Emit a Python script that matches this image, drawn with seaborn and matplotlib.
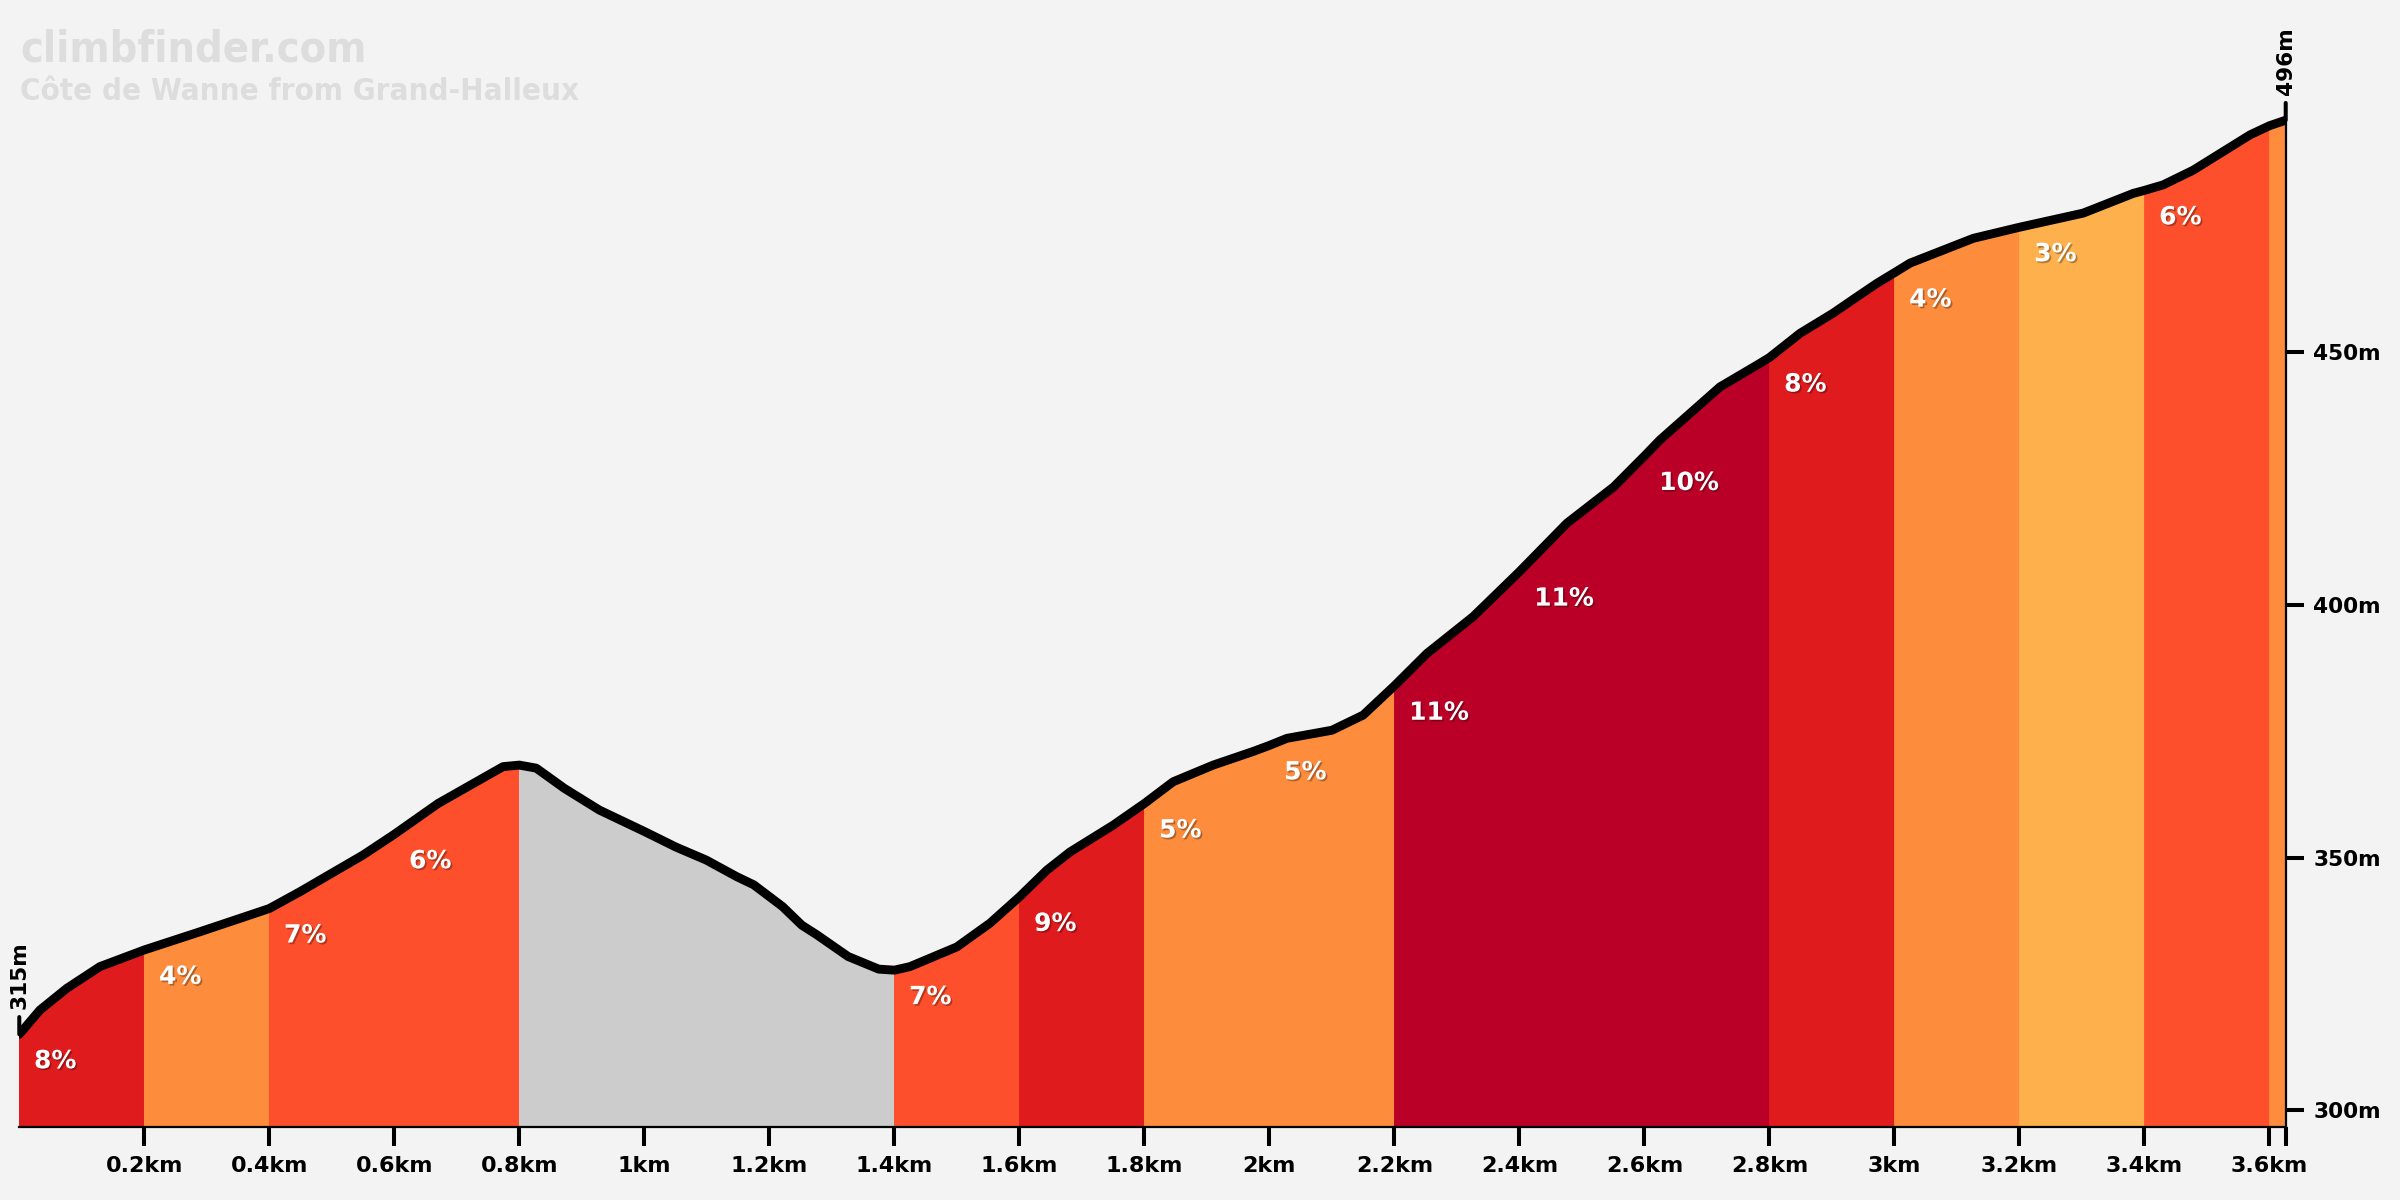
import matplotlib
matplotlib.use("Agg")
import matplotlib.pyplot as plt
import matplotlib.patheffects as pe
import seaborn as sns
import numpy as np

# ---------------- data ----------------
distance_km = [0.0, 0.033, 0.076, 0.129, 0.2, 0.289, 0.4, 0.45, 0.5, 0.55, 0.6, 0.67, 0.774,
               0.8, 0.827, 0.872, 0.928, 1.001, 1.05, 1.099, 1.148, 1.175, 1.221, 1.252, 1.276,
               1.326, 1.375, 1.4, 1.425, 1.5, 1.553, 1.6, 1.644, 1.681, 1.75, 1.8, 1.846, 1.91,
               1.974, 2.0, 2.028, 2.1, 2.15, 2.2, 2.252, 2.326, 2.4, 2.476, 2.551, 2.6, 2.625,
               2.721, 2.78, 2.8, 2.849, 2.902, 2.935, 2.972, 3.0, 3.025, 3.126, 3.2, 3.302, 3.382,
               3.4, 3.43, 3.478, 3.569, 3.6, 3.626]
elevation_m = [315.0, 319.8, 324.1, 328.4, 331.7, 335.3, 339.9, 343.3, 346.9, 350.5, 354.6, 360.7, 368.0,
               368.3, 367.7, 363.7, 359.4, 355.1, 352.1, 349.5, 346.2, 344.6, 340.3, 336.6, 334.7,
               330.4, 327.9, 327.7, 328.4, 332.3, 337.0, 342.2, 347.5, 351.1, 356.4, 360.7, 365.0, 368.3,
               371.0, 372.2, 373.6, 375.2, 378.2, 384.0, 390.4, 397.7, 406.6, 416.2, 423.4, 429.5, 432.7,
               443.2, 447.5, 449.0, 453.8, 457.8, 460.6, 463.7, 465.8, 467.7, 472.6, 474.8, 477.6, 481.5,
               482.1, 483.2, 486.1, 493.1, 494.9, 496.0]

seg_start = [0.0, 0.2, 0.4, 0.6, 0.8, 1.4, 1.6, 1.8, 2.0, 2.2, 2.4, 2.6, 2.8, 3.0, 3.2, 3.4, 3.6]
seg_end = [0.2, 0.4, 0.6, 0.8, 1.4, 1.6, 1.8, 2.0, 2.2, 2.4, 2.6, 2.8, 3.0, 3.2, 3.4, 3.6, 3.626]
seg_label = ["8%", "4%", "7%", "6%", "", "7%", "9%", "5%", "5%", "11%", "11%", "10%", "8%", "4%", "3%", "6%", ""]
seg_color = ["#E01B1E", "#FD8C3D", "#FD4F2B", "#FD4F2B", "#CCCCCC", "#FD4F2B", "#E01B1E", "#FD8C3D",
             "#FD8C3D", "#BA0026", "#BA0026", "#BA0026", "#E01B1E", "#FD8C3D", "#FDB04C", "#FD4F2B", "#FD8C3D"]

x_ticks = [0.2, 0.4, 0.6, 0.8, 1.0, 1.2, 1.4, 1.6, 1.8, 2.0, 2.2, 2.4, 2.6, 2.8, 3.0, 3.2, 3.4, 3.6]
x_tick_labels = ["0.2km", "0.4km", "0.6km", "0.8km", "1km", "1.2km", "1.4km", "1.6km", "1.8km", "2km",
                 "2.2km", "2.4km", "2.6km", "2.8km", "3km", "3.2km", "3.4km", "3.6km"]
y_ticks = [300, 350, 400, 450]
y_tick_labels = ["300m", "350m", "400m", "450m"]

title = "climbfinder.com"
subtitle = "Côte de Wanne from Grand-Halleux"

# ---------------- style ----------------
sns.set_theme(style="white")
BG = "#F3F3F3"
plt.rcParams["font.family"] = ["DejaVu Sans"]

fig = plt.figure(figsize=(12, 6), dpi=200, facecolor=BG)
ax = fig.add_axes([0.00804, 0.06108, 0.95238 - 0.00804, 0.8556])
ax.set_facecolor(BG)

x = np.array(distance_km)
y = np.array(elevation_m)
y_bottom = 296.7

for s, e, c in zip(seg_start, seg_end, seg_color):
    m = (x >= s - 1e-9) & (x <= e + 1e-9)
    ax.fill_between(x[m], y_bottom, y[m], color=c, edgecolor=c, linewidth=0.6, zorder=1)

sns.lineplot(x=distance_km, y=elevation_m, ax=ax, color="black", linewidth=3.2,
             sort=False, estimator=None, zorder=3, legend=False)

shadow = [pe.SimplePatchShadow(offset=(0.6, -0.6), shadow_rgbFace="black", alpha=0.3), pe.Normal()]
for s, lab in zip(seg_start, seg_label):
    if not lab:
        continue
    ys = np.interp(s, x, y)
    ax.annotate(lab, xy=(s, ys), xytext=(5.3, -9.7), textcoords="offset points",
                ha="left", va="center", color="white", fontsize=9, fontweight="bold",
                path_effects=shadow, zorder=4)

ax.set_xlim(0, seg_end[-1])
ax.set_ylim(y_bottom, 500)

ax.set_xticks(x_ticks + [seg_end[-1]])
ax.set_xticklabels(x_tick_labels + [""])
ax.yaxis.tick_right()
ax.set_yticks(y_ticks)
ax.set_yticklabels(y_tick_labels)
ax.tick_params(axis="x", length=7, width=1.45, color="black", pad=3.5, labelsize=8, bottom=True)
ax.tick_params(axis="y", length=6.5, width=1.45, color="black", pad=3.5, labelsize=7.8, right=True, left=False)
for lab in ax.get_xticklabels() + ax.get_yticklabels():
    lab.set_fontweight("bold")
    lab.set_color("black")

for side in ["top", "left"]:
    ax.spines[side].set_visible(False)
for side in ["bottom", "right"]:
    ax.spines[side].set_visible(True)
    ax.spines[side].set_color("black")
    ax.spines[side].set_linewidth(0.8)
ax.spines["right"].set_bounds(y_bottom, elevation_m[-1])
ax.spines["right"].set_zorder(5)
ax.grid(False)

# start / end elevation markers
for xi, yi in [(distance_km[0], elevation_m[0]), (distance_km[-1], elevation_m[-1])]:
    ax.annotate("", xy=(xi, yi), xytext=(0, 6.2), textcoords="offset points",
                arrowprops=dict(arrowstyle="-", lw=1.45, color="black", shrinkA=0, shrinkB=0),
                annotation_clip=False)
    ax.annotate(f"{yi:.0f}m", xy=(xi, yi), xytext=(0, 9.0), textcoords="offset points",
                rotation=90, ha="center", va="bottom", fontsize=7.8, fontweight="bold",
                color="black", annotation_clip=False)

fig.text(0.0083, 0.9486, title, fontsize=15.5, fontweight="bold", fontstretch="condensed",
         color="#DDDDDD", ha="left", va="baseline")
fig.text(0.0083, 0.9167, subtitle, fontsize=11.2, fontweight="bold", fontstretch="condensed",
         color="#DDDDDD", ha="left", va="baseline")

fig.savefig("out.png", dpi=200, facecolor=BG)
